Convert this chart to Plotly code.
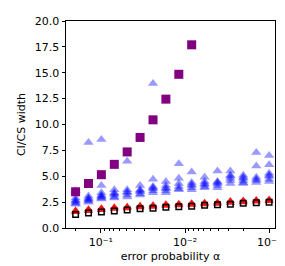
import plotly.graph_objects as go

alphas = [0.2, 0.1405, 0.0987, 0.0693, 0.0487, 0.0342, 0.0240, 0.01688,
          0.01185, 0.00833, 0.00585, 0.00411, 0.00289, 0.00203, 0.00142, 0.001]

purple_w = [3.5, 4.3, 5.15, 6.15, 7.35, 8.75, 10.45, 12.45, 14.85, 17.7]

blue_w = [
    [3.6, 2.9, 2.6, 2.4, 2.3, 2.7, 2.5],
    [8.25, 3.1, 2.8, 2.6, 2.5, 2.7, 2.9],
    [8.55, 4.1, 3.4, 3.1, 2.9, 2.8, 3.2, 3.0],
    [3.7, 3.4, 3.2, 3.0, 2.9, 3.3],
    [6.45, 3.7, 3.4, 3.2, 3.0, 3.5],
    [4.1, 3.7, 3.5, 3.3, 3.2, 3.6],
    [13.95, 4.7, 4.0, 3.8, 3.6, 3.4, 3.9],
    [4.5, 4.1, 3.8, 3.6, 3.4, 3.9],
    [6.2, 4.8, 4.3, 4.0, 3.8, 3.7],
    [5.4, 4.4, 4.2, 3.9, 3.7, 4.1],
    [4.9, 4.5, 4.2, 4.0, 3.9, 4.3],
    [5.5, 4.5, 4.3, 4.1, 3.9, 4.4],
    [5.5, 5.1, 4.8, 4.6, 4.3, 5.0],
    [5.1, 4.8, 4.6, 4.4, 4.3, 4.9],
    [7.3, 6.0, 4.9, 4.6, 4.4, 4.7],
    [7.0, 6.1, 5.3, 5.0, 4.7, 4.5, 5.1],
]

red_w = [
    [1.7, 1.55], [1.8, 1.65], [1.9, 1.75], [2.0, 1.85], [2.05, 1.9], [2.15, 2.0],
    [2.2, 2.05], [2.3, 2.15], [2.35, 2.2], [2.4, 2.25], [2.45, 2.3], [2.5, 2.35],
    [2.6, 2.45], [2.65, 2.5], [2.7, 2.55], [2.75, 2.6],
]

black_w = [1.3, 1.45, 1.55, 1.65, 1.75, 1.85, 1.9, 2.0, 2.05, 2.1, 2.2, 2.25,
           2.3, 2.4, 2.45, 2.5]

x_ticks = [0.1, 0.01, 0.001]
x_tick_text = ["10\u207b\u00b9", "10\u207b\u00b2", "10\u207b\u00b3"]
y_ticks = [0, 2.5, 5, 7.5, 10, 12.5, 15, 17.5, 20]
y_tick_text = ["0.0", "2.5", "5.0", "7.5", "10.0", "12.5", "15.0", "17.5", "20.0"]

bx, by = [], []
for a, vals in zip(alphas, blue_w):
    for v in vals:
        bx.append(a)
        by.append(v)
rx, ry = [], []
for a, vals in zip(alphas, red_w):
    for v in vals:
        rx.append(a)
        ry.append(v)

fig = go.Figure()
fig.add_trace(go.Scatter(x=bx, y=by, mode="markers",
                         marker=dict(symbol="triangle-up", size=9, color="blue",
                                     opacity=0.4, line=dict(width=0))))
fig.add_trace(go.Scatter(x=rx, y=ry, mode="markers",
                         marker=dict(symbol="triangle-up", size=8, color="red",
                                     opacity=0.9, line=dict(width=0))))
fig.add_trace(go.Scatter(x=alphas, y=black_w, mode="markers",
                         marker=dict(symbol="square-open", size=5.5, color="black",
                                     line=dict(width=1.5, color="black"))))
fig.add_trace(go.Scatter(x=alphas[:len(purple_w)], y=purple_w, mode="markers",
                         marker=dict(symbol="square", size=9, color="purple",
                                     line=dict(width=0))))

minor_vals = [m * 10.0 ** e for e in (-3, -2, -1) for m in range(2, 10) if m * 10.0 ** e <= 0.26]

fig.update_layout(
    width=285, height=266,
    margin=dict(l=58, r=18, t=13, b=46, autoexpand=False),
    paper_bgcolor="white", plot_bgcolor="white",
    showlegend=False,
    font=dict(family="DejaVu Sans", size=11, color="black"),
    xaxis=dict(type="log", range=[-0.585, -3.07], tickvals=x_ticks, ticktext=x_tick_text,
               automargin=False,
               showgrid=False, zeroline=False, showline=True, linecolor="black",
               linewidth=1, mirror=True, ticks="outside", ticklen=3.5, tickcolor="black",
               minor=dict(tickvals=minor_vals, ticks="outside", ticklen=2, tickcolor="black",
                          showgrid=False),
               title=dict(text="error probability \u03b1", standoff=4, font=dict(size=11))),
    yaxis=dict(range=[0, 20], tickvals=y_ticks, ticktext=y_tick_text,
               automargin=False,
               showgrid=False, zeroline=False, showline=True, linecolor="black",
               linewidth=1, mirror=True, ticks="outside", ticklen=3.5, tickcolor="black",
               title=dict(text="CI/CS width", standoff=6, font=dict(size=11))),
)

fig.write_html("out.html")
